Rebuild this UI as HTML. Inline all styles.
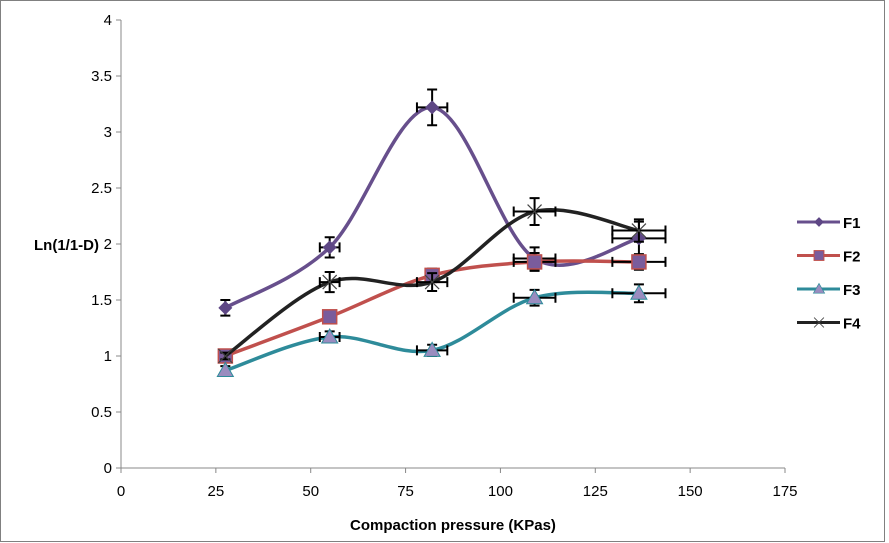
<!DOCTYPE html>
<html><head><meta charset="utf-8"><style>
body{margin:0;background:#fff}
svg{display:block;font-family:"Liberation Sans",sans-serif}
</style></head><body>
<svg id="c" width="889" height="543" xmlns="http://www.w3.org/2000/svg">
<rect x="0.5" y="0.5" width="884" height="541" fill="#fff" stroke="#808080"/>
<g id="axes"></g><g id="series"></g><g id="legend"></g>
<text x="34" y="250" font-size="15" font-weight="bold">Ln(1/1-D)</text>
<text x="453" y="530" font-size="15" font-weight="bold" text-anchor="middle">Compaction pressure (KPas)</text>
</svg>
<script>
const xTicks=[0,25,50,75,100,125,150,175];
const yTicks=[0,0.5,1,1.5,2,2.5,3,3.5,4];
const yTickLabels=["0","0.5","1","1.5","2","2.5","3","3.5","4"];
const seriesNames=["F1","F2","F3","F4"];
const xF1=[27.5,55,82,109,136.5];
const yF1=[1.43,1.97,3.22,1.87,2.05];
const eyF1=[0.07,0.09,0.16,0.1,0.15];
const exF1=[0,2.6,4,5.5,7];
const xF2=[27.5,55,82,109,136.5];
const yF2=[1.0,1.35,1.72,1.84,1.84];
const eyF2=[0.03,0.04,0.06,0.08,0.07];
const exF2=[0,0,0,5.5,7];
const xF3=[27.5,55,82,109,136.5];
const yF3=[0.87,1.17,1.05,1.52,1.56];
const eyF3=[0.04,0.05,0.05,0.07,0.08];
const exF3=[0,2.6,4,5.5,7];
const xF4=[27.5,55,82,109,136.5];
const yF4=[1.0,1.66,1.66,2.29,2.12];
const eyF4=[0.03,0.09,0.08,0.12,0.1];
const exF4=[0,2.6,4,5.5,7];
const colors=["#674f8c","#c0504d","#2e8b9a","#222222"];
const X0=121,X1=785,Y0=468,Y1=20;
const sx=v=>X0+(v-0)/(175-0)*(X1-X0);
const sy=v=>Y0-(v-0)/(4-0)*(Y0-Y1);
const NS="http://www.w3.org/2000/svg";
function mk(t,a,p){const e=document.createElementNS(NS,t);for(const k in a)e.setAttribute(k,a[k]);p.appendChild(e);return e;}
const ax=document.getElementById('axes');
let l=mk('line',{x1:X0,y1:Y1,x2:X0,y2:Y0,stroke:'#888','stroke-width':1},ax);


l=mk('line',{x1:X0,y1:Y0,x2:X1,y2:Y0,stroke:'#888','stroke-width':1},ax);


yTicks.forEach((v,i)=>{mk('line',{x1:X0-5,x2:X0,y1:sy(v),y2:sy(v),stroke:'#888'},ax);
const t=mk('text',{x:X0-9,y:sy(v)+5,'font-size':15,'text-anchor':'end'},ax);t.textContent=yTickLabels[i];

});
xTicks.forEach(v=>{mk('line',{x1:sx(v),x2:sx(v),y1:Y0,y2:Y0+5,stroke:'#888'},ax);
const t=mk('text',{x:sx(v),y:Y0+28,'font-size':15,'text-anchor':'middle'},ax);t.textContent=String(v);

});
function smooth(p){let d=`M${p[0][0]},${p[0][1]}`;const k=1/6;
for(let i=0;i<p.length-1;i++){const a=p[i-1]||p[i],b=p[i],c=p[i+1],e=p[i+2]||c;
d+=` C${b[0]+(c[0]-a[0])*k},${b[1]+(c[1]-a[1])*k} ${c[0]-(e[0]-b[0])*k},${c[1]-(e[1]-b[1])*k} ${c[0]},${c[1]}`;}return d;}
function marker(i,x,y,g){const c=colors[i];let m;
if(i==0)m=mk('path',{d:`M${x},${y-7}L${x+7},${y}L${x},${y+7}L${x-7},${y}Z`,fill:'#5e4785'},g);
else if(i==1)m=mk('rect',{x:x-7,y:y-7,width:14,height:14,fill:'#7a5c9c',stroke:c,'stroke-width':1.5},g);
else if(i==2)m=mk('path',{d:`M${x},${y-8}L${x+8},${y+6}L${x-8},${y+6}Z`,fill:'#9a8cbf',stroke:c,'stroke-width':1},g);
else m=mk('path',{d:`M${x-7},${y-7}L${x+7},${y+7}M${x+7},${y-7}L${x-7},${y+7}`,stroke:'#444','stroke-width':1.2},g);
return m;}
const data=[[xF1,yF1,eyF1,exF1],[xF2,yF2,eyF2,exF2],[xF3,yF3,eyF3,exF3],[xF4,yF4,eyF4,exF4]];
const sg=document.getElementById('series');
data.forEach((s,i)=>{const g=mk('g',{},sg);


const pts=s[0].map((x,j)=>[sx(x),sy(s[1][j])]);
mk('path',{d:smooth(pts),fill:'none',stroke:colors[i],'stroke-width':3.5},g);
pts.forEach((p,j)=>{const ey=s[2][j],ex=s[3][j];
const eb=mk('path',{d:`M${p[0]},${sy(s[1][j]+ey)}V${sy(s[1][j]-ey)}M${p[0]-5},${sy(s[1][j]+ey)}h10M${p[0]-5},${sy(s[1][j]-ey)}h10`+(ex?`M${sx(s[0][j]-ex)},${p[1]}H${sx(s[0][j]+ex)}M${sx(s[0][j]-ex)},${p[1]-5}v10M${sx(s[0][j]+ex)},${p[1]-5}v10`:''),stroke:'#000','stroke-width':2,fill:'none'},g);


const m=marker(i,p[0],p[1],g);

});});
const lg=document.getElementById('legend');
seriesNames.forEach((n,i)=>{const y=222+i*33.5;const g=mk('g',{},lg);


mk('line',{x1:797,x2:840,y1:y,y2:y,stroke:colors[i],'stroke-width':3},g);
const m=marker(i,819,y,g);m.setAttribute('transform',`translate(${819*0.3},${y*0.3}) scale(0.7)`);
const t=mk('text',{x:843,y:y+6,'font-size':15,'font-weight':'bold'},g);t.textContent=n;});
</script>
</body></html>
